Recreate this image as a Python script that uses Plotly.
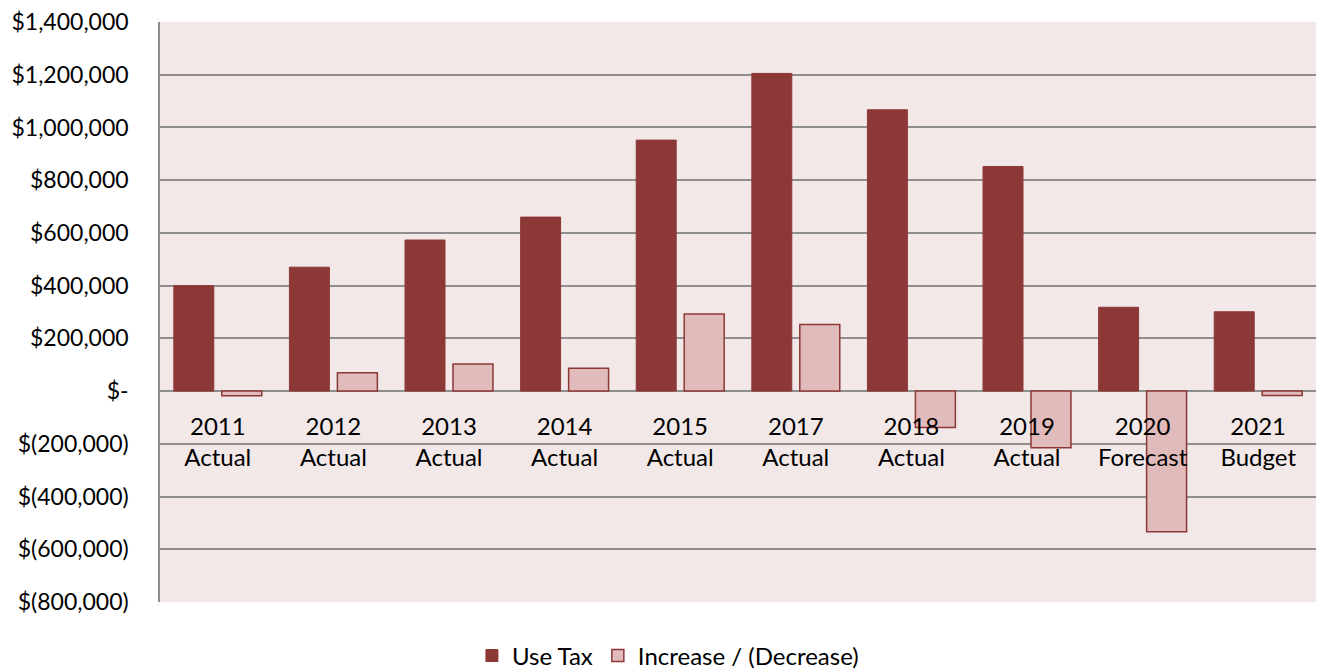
import plotly.graph_objects as go

categories = ["2011<br>Actual", "2012<br>Actual", "2013<br>Actual", "2014<br>Actual",
              "2015<br>Actual", "2017<br>Actual", "2018<br>Actual", "2019<br>Actual",
              "2020<br>Forecast", "2021<br>Budget"]
use_tax = [400000, 470000, 573000, 660000, 952000, 1205000, 1067000, 852000, 318000, 301000]
change = [-18000, 70000, 103000, 87000, 292000, 253000, -138000, -215000, -534000, -17000]

y_tick_vals = [1400000, 1200000, 1000000, 800000, 600000, 400000, 200000, 0,
               -200000, -400000, -600000, -800000]
y_tick_text = ["$1,400,000", "$1,200,000", "$1,000,000", "$800,000", "$600,000",
               "$400,000", "$200,000", "$-", "$(200,000)", "$(400,000)",
               "$(600,000)", "$(800,000)"]

DARK = "#8C3836"
LIGHT = "#E1BBBB"
GRID = "#8E8E8E"
FONT = "Lato"

fig = go.Figure()
fig.add_trace(go.Bar(x=categories, y=use_tax, name="Use Tax",
                     marker=dict(color=DARK, line=dict(color=DARK, width=1))))
fig.add_trace(go.Bar(x=categories, y=change, name="Increase / (Decrease)",
                     marker=dict(color=LIGHT, line=dict(color=DARK, width=1.5))))

ymin, ymax = -800000, 1400000
zero_pos = (0 - ymin) / (ymax - ymin)

fig.update_layout(
    width=1320, height=670,
    margin=dict(l=160, r=4, t=22, b=68, autoexpand=False),
    paper_bgcolor="white",
    plot_bgcolor="#F2E8E8",
    barmode="group",
    bargap=0.17,
    bargroupgap=0.167,
    font=dict(family=FONT, size=22, color="#000000"),
    showlegend=True,
    legend=dict(orientation="h", xref="container", yref="container",
                x=0.506, xanchor="center", y=0.021, yanchor="middle",
                font=dict(family=FONT, size=24), itemwidth=30,
                traceorder="normal"),
    xaxis=dict(anchor="free", position=zero_pos, showline=False, ticks="",
               showgrid=False, tickfont=dict(family=FONT, size=24),
               ticklabelstandoff=19, automargin=False),
    yaxis=dict(range=[ymin, ymax], tickvals=y_tick_vals, ticktext=y_tick_text,
               showgrid=True, gridcolor=GRID, gridwidth=1.5,
               zeroline=True, zerolinecolor=GRID, zerolinewidth=1.5,
               showline=True, linecolor=GRID, linewidth=1.5,
               ticks="", ticklabelstandoff=25, automargin=False,
               tickfont=dict(family=FONT, size=23)),
)

fig.write_html("out.html")
